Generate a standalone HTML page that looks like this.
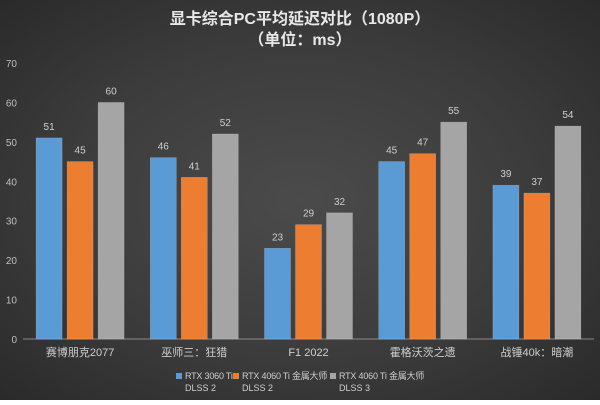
<!DOCTYPE html>
<html><head><meta charset="utf-8"><style>
body{margin:0;width:600px;height:400px;overflow:hidden;}
#c{width:600px;height:400px;background:radial-gradient(ellipse at 50% 50%,#4b4b4b 0%,#3c3c3c 55%,#2a2a2a 100%);position:relative;font-family:"Liberation Sans","Noto Sans CJK SC",sans-serif;}
text{font-family:"Liberation Sans","Noto Sans CJK SC",sans-serif;}
</style></head><body>
<div id="c">
<svg id="s" width="600" height="400">
<text x="300" y="24" text-anchor="middle" font-size="16" font-weight="bold" fill="#e8e8e8">显卡综合PC平均延迟对比（1080P）</text>
<text x="300" y="45" text-anchor="middle" font-size="16" font-weight="bold" fill="#e8e8e8">（单位：ms）</text>
</svg>
</div>
<script>
const categories=["赛博朋克2077","巫师三：狂猎","F1 2022","霍格沃茨之遗","战锤40k：暗潮"];
const s3060=[51,46,23,45,39];
const s4060d2=[45,41,29,47,37];
const s4060d3=[60,52,32,55,54];
const yTicks=[0,10,20,30,40,50,60,70];
const seriesNames=[["RTX 3060 Ti","DLSS 2"],["RTX 4060 Ti 金属大师","DLSS 2"],["RTX 4060 Ti 金属大师","DLSS 3"]];
const colors=["#5b9bd5","#ed7d31","#a5a5a5"];
const svg=document.getElementById('s');const NS="http://www.w3.org/2000/svg";
function mk(t,a){const e=document.createElementNS(NS,t);for(const k in a)e.setAttribute(k,a[k]);svg.appendChild(e);return e;}
const x0=23,x1=594,y0=339,yTop=63,yMax=70;
const y=v=>y0-(v/yMax)*(y0-yTop);
const cw=(x1-x0)/categories.length;
const cx=i=>x0+cw*(i+0.5);
yTicks.forEach(t=>{const e=mk('text',{x:17,y:y(t)+4,'text-anchor':'end','font-size':10,fill:'#bfbfbf'});e.textContent=t;

});
const ax=mk('line',{x1:x0,x2:x1,y1:y0,y2:y0,stroke:'#8a8a8a','stroke-width':1});


const series=[s3060,s4060d2,s4060d3];const bw=26,gap=5;
categories.forEach((c,i)=>{
 series.forEach((arr,j)=>{const bx=cx(i)+(j-1)*(bw+gap)-bw/2;
  const r=mk('rect',{x:bx,y:y(arr[i]),width:bw,height:y0-y(arr[i]),fill:colors[j],stroke:'rgba(255,255,255,0.25)','stroke-width':0.6});
  
  
  const l=mk('text',{x:bx+bw/2,y:y(arr[i])-8,'text-anchor':'middle','font-size':10,fill:'#cfcfcf'});l.textContent=arr[i];
  
  
 });
 const t=mk('text',{x:cx(i),y:356,'text-anchor':'middle','font-size':11,fill:'#cfcfcf'});t.textContent=c;
 
 
});
const lx=[185,242,339];
seriesNames.forEach((n,j)=>{
 const r=mk('rect',{x:lx[j]-9,y:373,width:6,height:6,fill:colors[j]});
 
 
 const t=mk('text',{x:lx[j],y:379,'font-size':9,'letter-spacing':'-0.2',fill:'#cfcfcf'});t.textContent=n[0];
 
 
 const t2=mk('text',{x:lx[j],y:391,'font-size':9,fill:'#cfcfcf'});t2.textContent=n[1];
 
 
});
</script>
</body></html>
